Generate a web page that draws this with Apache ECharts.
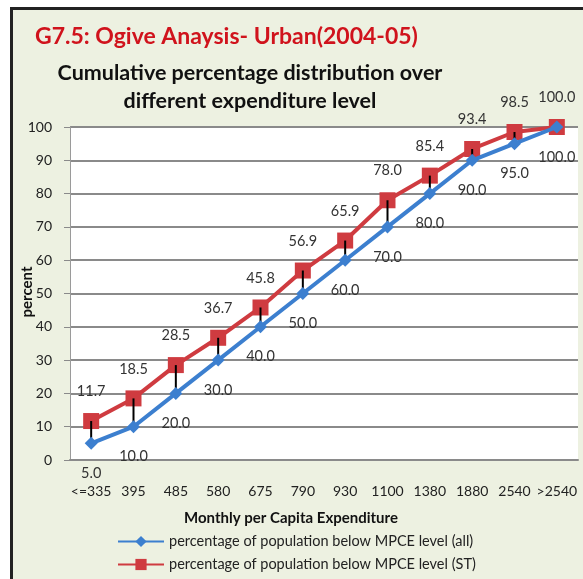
<!DOCTYPE html>
<html>
<head>
<meta charset="utf-8">
<script src="https://cdn.jsdelivr.net/npm/echarts@6/dist/echarts.min.js"></script>
<style>
  html, body { margin: 0; padding: 0; background: #ffffff; }
  #frame {
    position: absolute; left: 10px; top: 7px; width: 580px; height: 580px;
    border-left: 3px solid #222; border-top: 3px solid #222;
    background: #edf1e1;
  }
  #chart { position: absolute; left: 0; top: 0; width: 583px; height: 579px; }
</style>
</head>
<body>
<div id="frame"></div>
<div id="chart"></div>
<script>
// MPCE class limits (Rs.)
const categories = ['<=335', '395', '485', '580', '675', '790', '930', '1100', '1380', '1880', '2540', '>2540'];
// Cumulative % of population below each MPCE level
const allPop = [5.0, 10.0, 20.0, 30.0, 40.0, 50.0, 60.0, 70.0, 80.0, 90.0, 95.0, 100.0];
const stPop = [11.7, 18.5, 28.5, 36.7, 45.8, 56.9, 65.9, 78.0, 85.4, 93.4, 98.5, 100.0];
const yTicks = [0, 10, 20, 30, 40, 50, 60, 70, 80, 90, 100];

const FONT = 'Lato, "Open Sans", sans-serif';
const BLUE = '#3c7fcf';
const RED = '#cf3b40';

const chart = echarts.init(document.getElementById('chart'), null, { renderer: 'canvas' });

// Vertical connector between the two curves at each class limit
const gapData = categories.map((c, i) => [i, allPop[i], stPop[i]]);

chart.setOption({
  backgroundColor: 'transparent',
  animation: false,
  textStyle: { fontFamily: FONT },
  graphic: [
    { type: 'text', x: 35, y: 37, style: { text: 'G7.5: Ogive Anaysis- Urban(2004-05)', font: 'bold 23px ' + FONT, fill: '#d0131c', textVerticalAlign: 'middle' } },
    { type: 'text', x: 250, y: 73, style: { text: 'Cumulative percentage distribution over', font: 'bold 21.5px ' + FONT, fill: '#111', textAlign: 'center', textVerticalAlign: 'middle' } },
    { type: 'text', x: 250, y: 101, style: { text: 'different expenditure level', font: 'bold 21.5px ' + FONT, fill: '#111', textAlign: 'center', textVerticalAlign: 'middle' } },
    { type: 'text', x: 291, y: 518, style: { text: 'Monthly per Capita Expenditure', font: 'bold 15px ' + FONT, fill: '#111', textAlign: 'center', textVerticalAlign: 'middle' } },
    { type: 'text', x: 27, y: 292, rotation: Math.PI / 2, style: { text: 'percent', font: 'bold 15px ' + FONT, fill: '#111', textAlign: 'center', textVerticalAlign: 'middle' } }
  ],
  grid: { left: 70, right: 5, top: 127, bottom: 119, backgroundColor: '#ffffff', show: true, borderWidth: 0 },
  legend: {
    orient: 'vertical', left: 112, top: 529, itemWidth: 46, itemHeight: 14, itemGap: 8,
    textStyle: { fontSize: 14.5, color: '#222', fontFamily: FONT },
    data: ['percentage of population below MPCE level (all)', 'percentage of population below MPCE level (ST)']
  },
  xAxis: {
    type: 'category', data: categories, boundaryGap: true,
    axisLine: { lineStyle: { color: '#8a8a8a', width: 2 } },
    axisTick: { show: false },
    axisLabel: { color: '#222', fontSize: 14, margin: 24, interval: 0 }
  },
  yAxis: {
    type: 'value', min: yTicks[0], max: yTicks[yTicks.length - 1], interval: 10,
    axisLine: { show: true, lineStyle: { color: '#9a9a9a', width: 1 } },
    axisTick: { show: true, length: 6, lineStyle: { color: '#8a8a8a' } },
    axisLabel: { color: '#222', fontSize: 14, margin: 18 },
    splitLine: { lineStyle: { color: '#8a8a8a', width: 2 } }
  },
  series: [
    {
      name: 'percentage of population below MPCE level (ST)', type: 'line', data: stPop,
      color: RED, symbol: 'rect', symbolSize: 16, z: 2,
      lineStyle: { width: 4, color: RED }, itemStyle: { color: RED },
      label: { show: true, position: 'top', distance: 14, formatter: p => p.value.toFixed(1), fontSize: 14.5, color: '#333' }
    },
    {
      name: 'gap', type: 'custom', data: gapData, z: 3,
      renderItem: (params, api) => {
        const a = api.coord([api.value(0), api.value(1)]);
        const b = api.coord([api.value(0), api.value(2)]);
        return { type: 'line', shape: { x1: a[0], y1: a[1], x2: b[0], y2: b[1] }, style: { stroke: '#000', lineWidth: 2 } };
      },
      silent: true
    },
    {
      name: 'percentage of population below MPCE level (all)', type: 'line', data: allPop,
      color: BLUE, symbol: 'diamond', symbolSize: 13, z: 4,
      lineStyle: { width: 4, color: BLUE }, itemStyle: { color: BLUE },
      label: { show: true, position: 'bottom', distance: 16, formatter: p => p.value.toFixed(1), fontSize: 14.5, color: '#333' }
    }
  ]
});
</script>
</body>
</html>
